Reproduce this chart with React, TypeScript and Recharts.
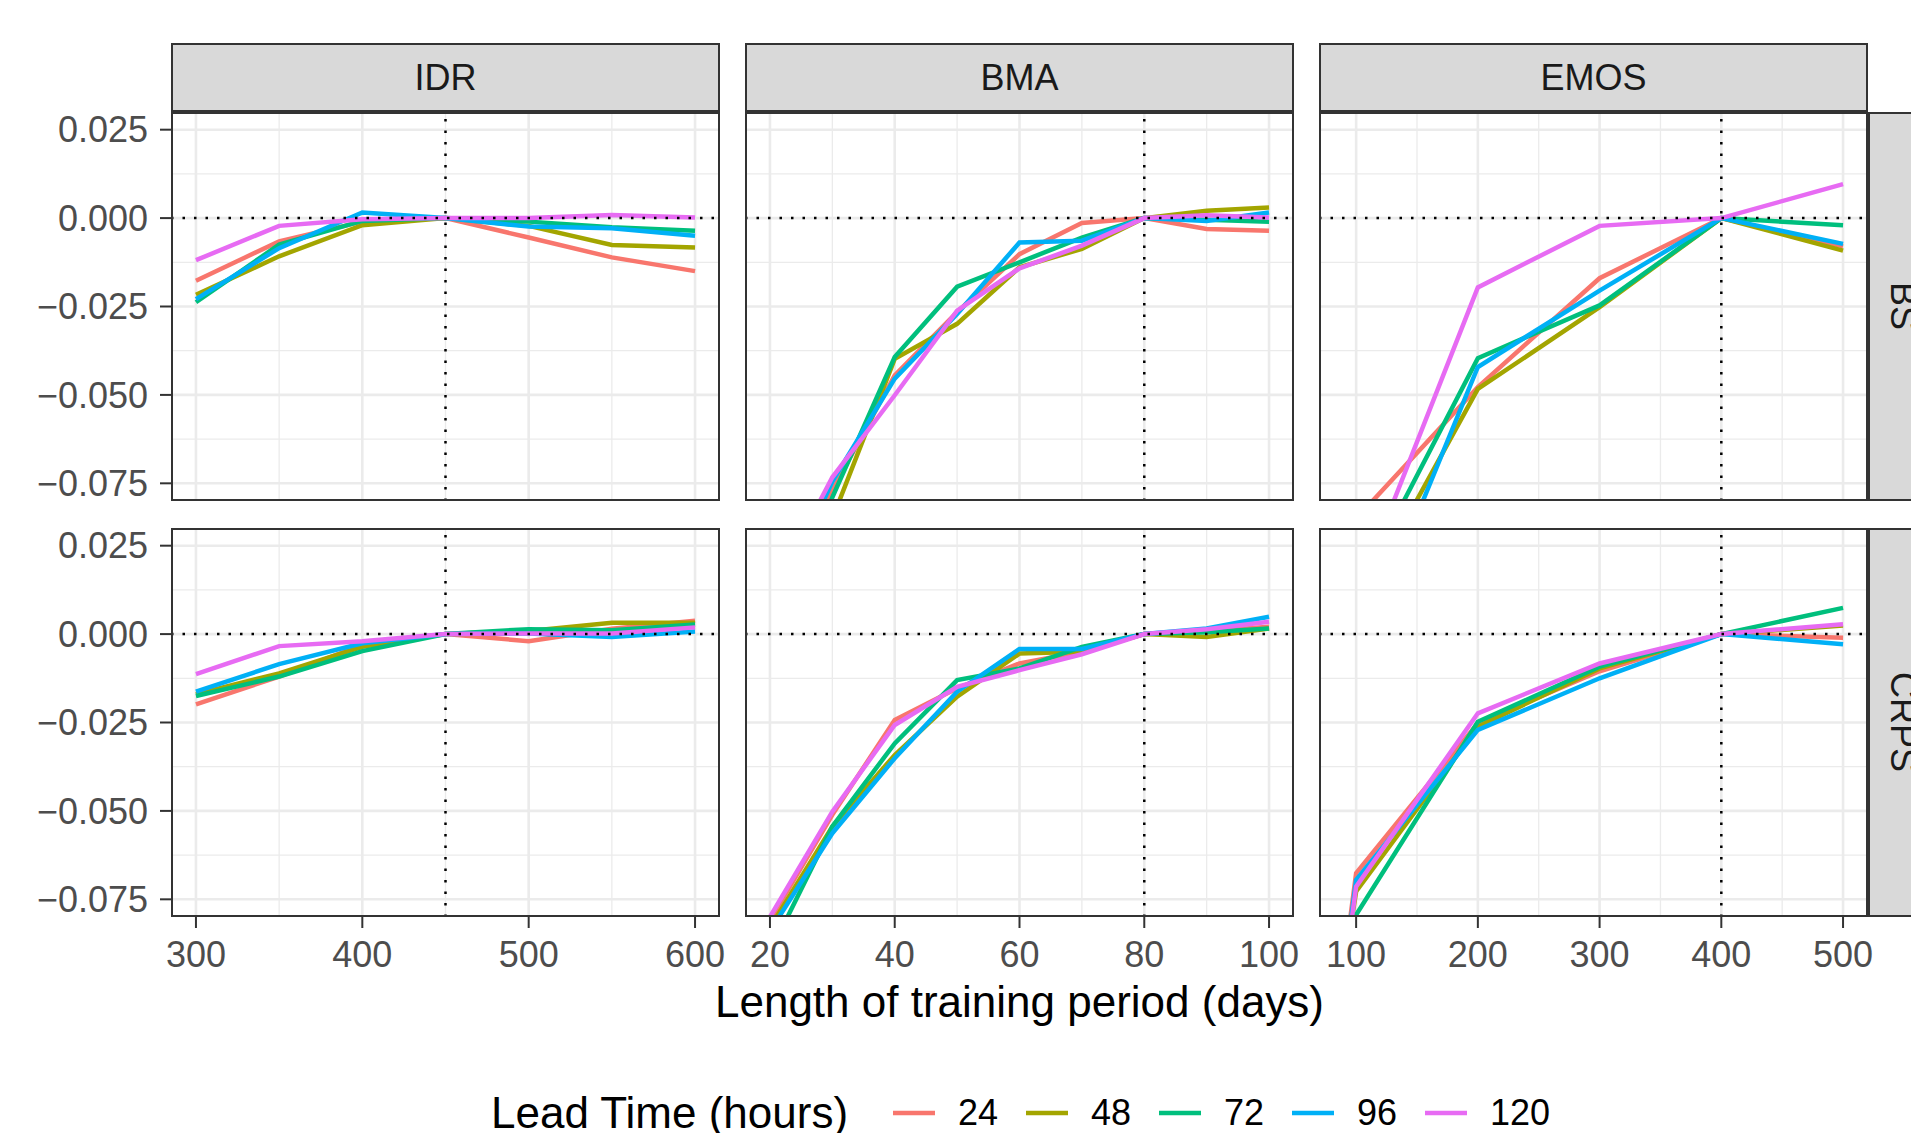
import React from 'react'
import { LineChart, Line, XAxis, YAxis, CartesianGrid, ReferenceLine } from 'recharts'

// lead times (hours) and ggplot default hue colours
const leadTimes = ['24', '48', '72', '96', '120']
const colors = ['#F8766D', '#A3A500', '#00BF7D', '#00B0F6', '#E76BF3']

const methods = ['IDR', 'BMA', 'EMOS']
const scores = ['BS', 'CRPS']

// training period lengths (days)
const idrDays = [300, 350, 400, 450, 500, 550, 600]
const bmaDays = [20, 30, 40, 50, 60, 70, 80, 90, 100]
const emosDays = [90, 100, 200, 300, 400, 500]

// relative score differences, one row per lead time (24, 48, 72, 96, 120)
const idrBs = [
  [-0.0177, -0.0066, -0.001, 0, -0.0055, -0.0111, -0.015],
  [-0.0217, -0.0108, -0.002, 0, -0.0022, -0.0076, -0.0083],
  [-0.0238, -0.0075, -0.0008, 0, -0.001, -0.0026, -0.0036],
  [-0.0229, -0.0085, 0.0016, 0, -0.0024, -0.0029, -0.005],
  [-0.0119, -0.0022, -0.0003, 0, 0.0, 0.0009, 0.0002],
]
const bmaBs = [
  [-0.115, -0.077, -0.0445, -0.0266, -0.0102, -0.0014, 0, -0.0031, -0.0036],
  [-0.13, -0.085, -0.0398, -0.0299, -0.0139, -0.0087, 0, 0.0021, 0.003],
  [-0.12, -0.079, -0.0393, -0.0194, -0.0125, -0.0055, 0, -0.0005, -0.001],
  [-0.113, -0.0745, -0.0454, -0.0271, -0.0069, -0.0064, 0, -0.0008, 0.0016],
  [-0.107, -0.0733, -0.0501, -0.0262, -0.0142, -0.0078, 0, 0.0008, 0.0002],
]
const emosBs = [
  [-0.095, -0.085, -0.0478, -0.017, 0, -0.008],
  [-0.125, -0.111, -0.0483, -0.0252, 0, -0.0092],
  [-0.118, -0.106, -0.0396, -0.0247, 0, -0.002],
  [-0.14, -0.126, -0.0421, -0.0205, 0, -0.0073],
  [-0.12, -0.107, -0.0196, -0.0022, 0, 0.0096],
]
const idrCrps = [
  [-0.0199, -0.012, -0.0031, 0, -0.002, 0.0015, 0.0038],
  [-0.017, -0.0111, -0.0036, 0, 0.0009, 0.0032, 0.0032],
  [-0.0175, -0.012, -0.0048, 0, 0.0014, 0.0011, 0.0027],
  [-0.0163, -0.0085, -0.0026, 0, 0.0002, -0.0008, 0.0007],
  [-0.0113, -0.0034, -0.002, 0, 0.0002, 0.0002, 0.0019],
]
const bmaCrps = [
  [-0.081, -0.0511, -0.0243, -0.0153, -0.0083, -0.005, 0, 0.0007, 0.0021],
  [-0.083, -0.0544, -0.0342, -0.0177, -0.0055, -0.005, 0, -0.0008, 0.0016],
  [-0.09, -0.0544, -0.0309, -0.013, -0.0097, -0.0036, 0, 0.0005, 0.0016],
  [-0.084, -0.0563, -0.0351, -0.0163, -0.0042, -0.0042, 0, 0.0016, 0.0049],
  [-0.08, -0.0502, -0.0257, -0.0149, -0.0102, -0.0057, 0, 0.0014, 0.0035],
]
const emosCrps = [
  [-0.094, -0.0676, -0.0252, -0.0105, 0, -0.001],
  [-0.095, -0.0728, -0.0262, -0.0097, 0, 0.0024],
  [-0.1, -0.0794, -0.0248, -0.0092, 0, 0.0074],
  [-0.096, -0.0695, -0.0271, -0.0125, 0, -0.0029],
  [-0.097, -0.0714, -0.0224, -0.0083, 0, 0.0028],
]

// axis ticks
const yTicks = [-0.075, -0.05, -0.025, 0, 0.025]
const yMinor = [-0.0625, -0.0375, -0.0125, 0.0125]
const idrTicks = [300, 400, 500, 600]
const idrMinor = [350, 450, 550]
const bmaTicks = [20, 40, 60, 80, 100]
const bmaMinor = [30, 50, 70, 90]
const emosTicks = [100, 200, 300, 400, 500]
const emosMinor = [150, 250, 350, 450]

const buildRows = (xs: number[], series: number[][]) =>
  xs.map((x, i) => {
    const row: Record<string, number> = { x }
    leadTimes.forEach((lt, j) => {
      row['lt' + lt] = series[j][i]
    })
    return row
  })

const columns = [
  { xs: idrDays, bs: idrBs, crps: idrCrps, domain: [285, 615], ticks: idrTicks, minor: idrMinor, ref: 450 },
  { xs: bmaDays, bs: bmaBs, crps: bmaCrps, domain: [16, 104], ticks: bmaTicks, minor: bmaMinor, ref: 80 },
  { xs: emosDays, bs: emosBs, crps: emosCrps, domain: [69.5, 520.5], ticks: emosTicks, minor: emosMinor, ref: 400 },
]

// layout (px)
const colX = [171, 745, 1319]
const rowY = [112, 528]
const panelW = 549
const panelH = 389
const yAxisW = 171
const xAxisH = 60
const stripTop = 43
const stripH = 69
const FONT = '"Liberation Sans", Arial, Helvetica, sans-serif'

const fmtY = (v: number) => (v < 0 ? '\u2212' : '') + Math.abs(v).toFixed(3)

function Panel({ col, row }: { col: number; row: number }) {
  const c = columns[col]
  const data = buildRows(c.xs, row === 0 ? c.bs : c.crps)
  const showY = col === 0
  const showX = row === 1
  const left = showY ? 0 : colX[col]
  const width = panelW + (showY ? yAxisW : 0)
  const height = panelH + (showX ? xAxisH : 0)
  return (
    <div style={{ position: 'absolute', left, top: rowY[row], overflow: 'visible' }}>
      <LineChart
        width={width}
        height={height}
        data={data}
        margin={{ top: 0, right: 0, bottom: 0, left: 0 }}
        style={{ overflow: 'visible' }}
      >
        <CartesianGrid stroke="#EBEBEB" strokeWidth={1.3} horizontalValues={yMinor} verticalValues={c.minor} />
        <CartesianGrid stroke="#EBEBEB" strokeWidth={2.6} horizontalValues={yTicks} verticalValues={c.ticks} />
        <XAxis
          dataKey="x"
          type="number"
          domain={c.domain}
          ticks={c.ticks}
          allowDataOverflow
          hide={!showX}
          height={xAxisH}
          axisLine={false}
          tickSize={11}
          tickMargin={13}
          tickLine={{ stroke: '#333333', strokeWidth: 2 }}
          tick={{ fontSize: 36, fill: '#4D4D4D' }}
          interval={0}
        />
        <YAxis
          type="number"
          domain={[-0.08, 0.03]}
          ticks={yTicks}
          allowDataOverflow
          hide={!showY}
          width={yAxisW}
          axisLine={false}
          tickSize={11}
          tickMargin={12}
          tickLine={{ stroke: '#333333', strokeWidth: 2 }}
          tick={{ fontSize: 36, fill: '#4D4D4D' }}
          tickFormatter={fmtY}
          interval={0}
        />
        {leadTimes.map((lt, j) => (
          <Line
            key={lt}
            type="linear"
            dataKey={'lt' + lt}
            stroke={colors[j]}
            strokeWidth={4.5}
            dot={false}
            isAnimationActive={false}
          />
        ))}
        <ReferenceLine y={0} stroke="#000" strokeWidth={2.5} strokeDasharray="2.5 9" />
        <ReferenceLine x={c.ref} stroke="#000" strokeWidth={2.5} strokeDasharray="2.5 9" />
      </LineChart>
    </div>
  )
}

export default function App() {
  return (
    <div
      style={{
        position: 'absolute',
        left: 0,
        top: 0,
        width: 1911,
        height: 1133,
        overflow: 'hidden',
        background: '#fff',
        fontFamily: FONT,
      }}
    >
      <style>{'.recharts-surface, .recharts-wrapper { overflow: visible !important; }'}</style>
      {[0, 1].map((row) => [0, 1, 2].map((col) => <Panel key={row + '-' + col} col={col} row={row} />))}

      {/* panel borders */}
      {[0, 1].map((row) =>
        [0, 1, 2].map((col) => (
          <div
            key={'b' + row + col}
            style={{
              position: 'absolute',
              left: colX[col],
              top: rowY[row],
              width: panelW,
              height: panelH,
              border: '2px solid #333333',
              boxSizing: 'border-box',
              pointerEvents: 'none',
            }}
          />
        ))
      )}

      {/* column strips */}
      {methods.map((m, col) => (
        <div
          key={m}
          style={{
            position: 'absolute',
            left: colX[col],
            top: stripTop,
            width: panelW,
            height: stripH,
            background: '#D9D9D9',
            border: '2px solid #333333',
            boxSizing: 'border-box',
            display: 'flex',
            alignItems: 'center',
            justifyContent: 'center',
            fontSize: 36,
            color: '#1A1A1A',
          }}
        >
          {m}
        </div>
      ))}

      {/* row strips */}
      {scores.map((s, row) => (
        <div
          key={s}
          style={{
            position: 'absolute',
            left: colX[2] + panelW,
            top: rowY[row],
            width: stripH,
            height: panelH,
            background: '#D9D9D9',
            border: '2px solid #333333',
            boxSizing: 'border-box',
            display: 'flex',
            alignItems: 'center',
            justifyContent: 'center',
            fontSize: 36,
            color: '#1A1A1A',
            writingMode: 'vertical-rl',
          }}
        >
          {s}
        </div>
      ))}

      {/* x axis title */}
      <div
        style={{
          position: 'absolute',
          left: colX[0],
          width: colX[2] + panelW - colX[0],
          top: 1002 - 25,
          height: 50,
          lineHeight: '50px',
          textAlign: 'center',
          fontSize: 44,
          color: '#000',
        }}
      >
        Length of training period (days)
      </div>

      {/* legend */}
      <div style={{ position: 'absolute', left: 491, top: 1113 - 25, height: 50, lineHeight: '50px', fontSize: 44, color: '#000', whiteSpace: 'nowrap' }}>
        Lead Time (hours)
      </div>
      {leadTimes.map((lt, j) => (
        <React.Fragment key={'lg' + lt}>
          <svg style={{ position: 'absolute', left: 893 + j * 133, top: 1103 }} width={42} height={20}>
            <line x1={0} y1={10} x2={42} y2={10} stroke={colors[j]} strokeWidth={4.5} />
          </svg>
          <div style={{ position: 'absolute', left: 958 + j * 133, top: 1113 - 22, height: 44, lineHeight: '44px', fontSize: 36, color: '#000' }}>
            {lt}
          </div>
        </React.Fragment>
      ))}
    </div>
  )
}
